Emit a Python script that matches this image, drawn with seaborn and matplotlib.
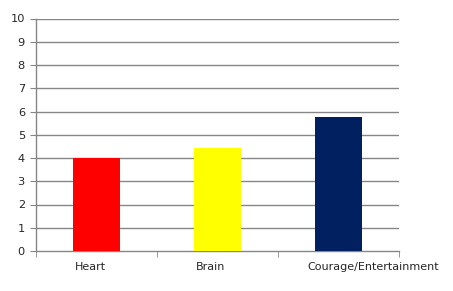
import matplotlib
matplotlib.use("Agg")
import matplotlib.pyplot as plt
import matplotlib.transforms as mtransforms
import seaborn as sns
import pandas as pd
from matplotlib.ticker import FixedLocator

categories = ["Heart", "Brain", "Courage/Entertainment"]
values = [4.0, 4.45, 5.75]
colors = ["#FF0000", "#FFFF00", "#002060"]
yticks = list(range(0, 11))

sns.set_style("white")
plt.rcParams['font.family'] = ['DejaVu Sans']

df = pd.DataFrame({"cat": categories, "val": values})

fig = plt.figure(figsize=(4.53, 2.91), dpi=100)
ax = fig.add_axes([36/453, 1-251/291, (399-36)/453, (251-18.5)/291])
sns.barplot(data=df, x="cat", y="val", hue="cat", palette=colors, width=0.395,
            saturation=1, legend=False, ax=ax, zorder=3, linewidth=0, edgecolor="none")

grid_c = "#868686"
ax.set_ylim(0, 10)
ax.set_xlim(-0.5, 2.5)
ax.set_yticks(yticks)
ax.set_yticklabels([str(t) for t in yticks], fontsize=8.2)
for t in yticks[1:]:
    ax.axhline(t, color=grid_c, lw=1, zorder=1)
ax.set_xlabel("")
ax.set_ylabel("")
ax.tick_params(axis='x', which='major', length=0, labelsize=8.0, pad=8)
ax.xaxis.set_minor_locator(FixedLocator([-0.5, 0.5, 1.5, 2.5]))
ax.tick_params(axis='x', which='minor', length=4, color=grid_c, direction='out', bottom=True)
ax.tick_params(axis='y', length=4, color=grid_c, direction='out', left=True, pad=4)
for s in ["top", "right"]:
    ax.spines[s].set_visible(False)
for s in ["left", "bottom"]:
    ax.spines[s].set_color(grid_c)
    ax.spines[s].set_linewidth(1)

# Excel-style label placement offsets (pixels)
offsets = [-6, -7, 35]
for lab, dx in zip(ax.get_xticklabels(), offsets):
    lab.set_transform(lab.get_transform() +
                      mtransforms.ScaledTranslation(dx / 100, 0, fig.dpi_scale_trans))

fig.savefig("out.png", dpi=100)
